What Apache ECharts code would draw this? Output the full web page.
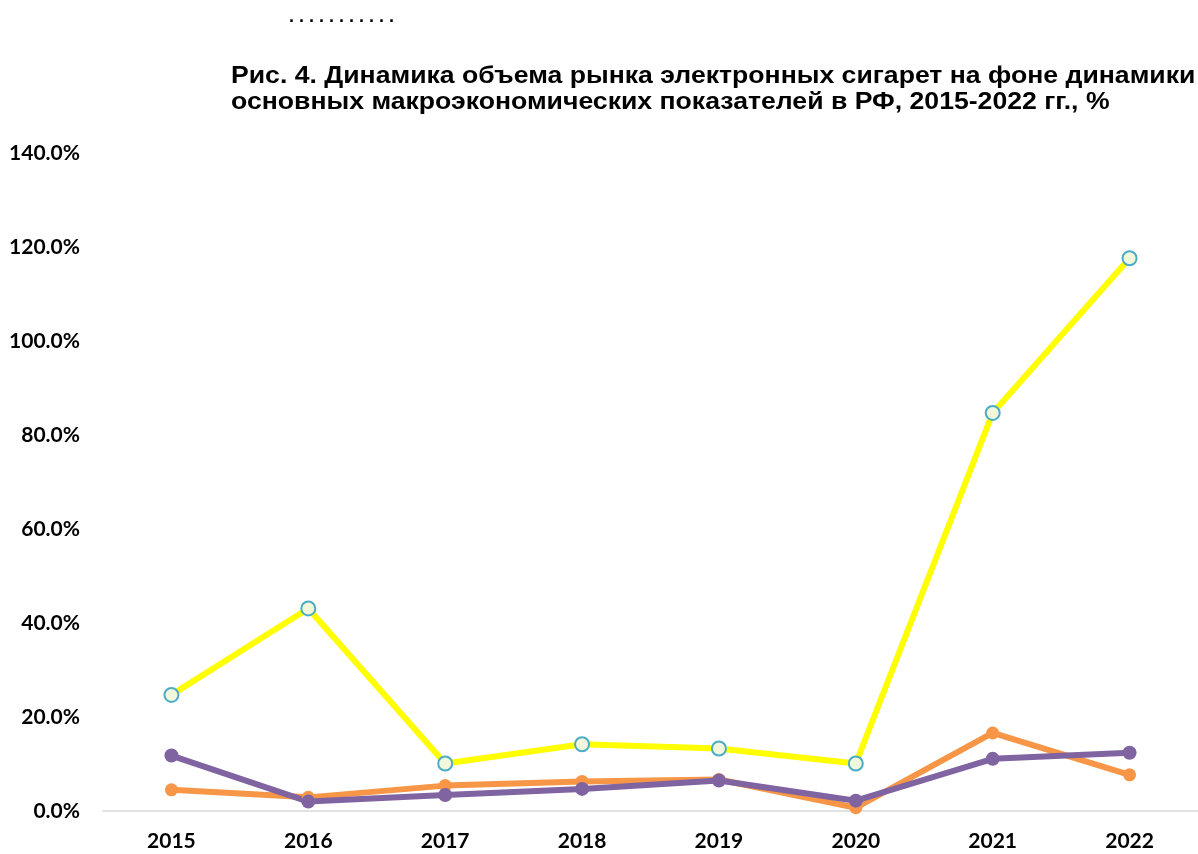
<!DOCTYPE html>
<html>
<head>
<meta charset="utf-8">
<script src="https://cdn.jsdelivr.net/npm/echarts@6/dist/echarts.min.js"></script>
<style>
  html, body { margin: 0; padding: 0; background: #fff; }
  #chart { width: 1198px; height: 854px; }
</style>
</head>
<body>
<div id="chart"></div>
<script>
const years = ['2015', '2016', '2017', '2018', '2019', '2020', '2021', '2022'];
const ecigMarket = [24.7, 43.1, 10.1, 14.2, 13.3, 10.1, 84.7, 117.6];
const seriesOrange = [4.5, 2.9, 5.4, 6.3, 6.7, 0.7, 16.6, 7.7];
const seriesPurple = [11.8, 2.0, 3.4, 4.7, 6.5, 2.2, 11.1, 12.4];
const yTicks = { min: 0, max: 140, interval: 20 };
const titleLines = [
  'Рис. 4. Динамика объема рынка электронных сигарет на фоне динамики',
  'основных макроэкономических показателей в РФ, 2015-2022 гг., %'
];

const chart = echarts.init(document.getElementById('chart'));

const option = {
  backgroundColor: '#fff',
  animation: false,
  graphic: [
    {
      type: 'text',
      left: 289,
      top: 8,
      style: {
        text: '. . . . . . . . . . .',
        font: 'bold 18px "Liberation Sans", Arial',
        fill: '#000'
      }
    },
    {
      // заголовок растянут по горизонтали, как в исходнике
      type: 'text',
      x: 231,
      y: 64,
      scaleX: 1.157,
      style: {
        text: titleLines.join('\n'),
        font: 'bold 23px "Liberation Sans", Arial',
        lineHeight: 26,
        fill: '#000'
      }
    }
  ],
  grid: { left: 103, top: 153, width: 1103, bottom: 43 },
  xAxis: {
    type: 'category',
    data: years,
    boundaryGap: true,
    axisLine: { lineStyle: { color: '#d9d9d9', width: 1.5 } },
    axisTick: { show: false },
    axisLabel: {
      margin: 20,
      fontFamily: 'Lato, sans-serif',
      fontWeight: 'bold',
      fontSize: 21,
      color: '#000'
    }
  },
  yAxis: {
    type: 'value',
    min: yTicks.min,
    max: yTicks.max,
    interval: yTicks.interval,
    axisLine: { show: false },
    axisTick: { show: false },
    splitLine: { show: false },
    axisLabel: {
      margin: 23,
      fontFamily: 'Lato, sans-serif',
      fontWeight: 'bold',
      fontSize: 21,
      color: '#000',
      formatter: v => v.toFixed(1) + '%'
    }
  },
  series: [
    {
      type: 'line',
      data: ecigMarket,
      symbol: 'circle',
      symbolSize: 14,
      lineStyle: { color: '#ffff00', width: 6 },
      itemStyle: { color: '#f2f7dc', borderColor: '#4bacc6', borderWidth: 2 }
    },
    {
      type: 'line',
      data: seriesOrange,
      symbol: 'circle',
      symbolSize: 13,
      lineStyle: { color: '#f79646', width: 6 },
      itemStyle: { color: '#f79646' }
    },
    {
      type: 'line',
      data: seriesPurple,
      symbol: 'circle',
      symbolSize: 14,
      lineStyle: { color: '#8064a2', width: 6 },
      itemStyle: { color: '#8064a2' }
    }
  ]
};

chart.setOption(option);
</script>
</body>
</html>
